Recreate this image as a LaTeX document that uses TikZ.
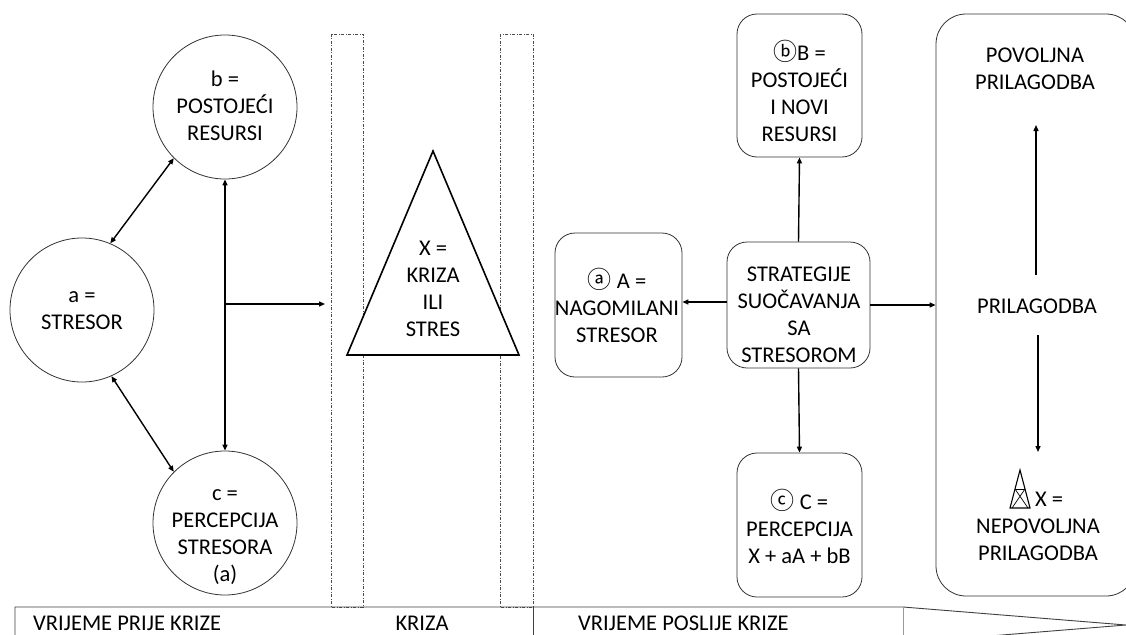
\documentclass[tikz,border=0pt]{standalone}
\usepackage{fontspec}
\setmainfont{Carlito}
\newfontfamily\circfont{Noto Sans CJK SC}
\usetikzlibrary{arrows.meta}
\begin{document}
\begin{tikzpicture}[x=1pt,y=-1pt,
  circ/.style={circle, draw=black!80, line width=0.8pt, minimum size=144pt, inner sep=0pt},
  rbox/.style={draw=black!80, line width=0.8pt, rounded corners=20pt, inner sep=0pt},
  txt/.style={align=center, font=\fontsize{22.5}{27}\selectfont, inner sep=0pt},
  cl/.style={},
  arr/.style={line width=1.4pt, -{Triangle[length=6pt,width=5pt]}},
  darr/.style={line width=1.4pt, {Triangle[length=6pt,width=5pt]}-{Triangle[length=6pt,width=5pt]}},
  dashbox/.style={draw=black!70, line width=0.6pt, dash pattern=on 3pt off 1.5pt on 1pt off 1.5pt},
  bar/.style={draw=black!75, line width=0.9pt}]
\newcommand{\circled}[1]{{\circfont\fontsize{24}{27}\selectfont #1}}
\useasboundingbox (0,0) rectangle (1126,634);
\fill[white] (0,0) rectangle (1126,634);

% dashed crisis columns
\draw[dashbox] (331,34) rectangle (363,607);
\draw[dashbox] (500,34) rectangle (533,607);

% left circles
\node[circ] (b) at (225,107) {};
\node[txt] (bt) at (225,106) {b =\\POSTOJEĆI\\RESURSI};
\node[circ] (a) at (82,310) {};
\node[txt] (at) at (82,311) {a =\\STRESOR};
\node[circ] (c) at (225,523) {};
\node[txt] (ct) at (225,537) {c =\\PERCEPCIJA\\STRESORA\\(a)};

\draw[darr] (a.67) -- (b.225);
\draw[darr] (a.-66) -- (c.135);
\draw[darr] (b.south) -- (c.north);
\coordinate (j) at (225,304);
\coordinate (k) at (325,304);
\draw[arr] (j) -- (k);

% crisis triangle
\draw[line width=1.6pt, fill=white] (433,151) -- (519,355) -- (347,355) -- cycle;
\node[txt] (x) at (433,289) {X =\\KRIZA\\ILI\\STRES};

% coping part
\node[rbox, minimum width=127pt, minimum height=144pt] (A) at (618.5,305) {};
\node[txt] (At) at (617,305) {\circled{ⓐ} A =\\NAGOMILANI\\STRESOR};
\node[rbox, minimum width=143pt, minimum height=126pt] (S) at (798.5,305) {};
\node[txt] (St) at (799,315) {STRATEGIJE\\SUOČAVANJA\\SA\\STRESOROM};
\node[rbox, minimum width=125pt, minimum height=143pt] (B) at (799.5,85.5) {};
\node[txt] (Bt) at (799.5,91) {\circled{ⓑ}B =\\POSTOJEĆI\\I NOVI\\RESURSI};
\node[rbox, minimum width=125pt, minimum height=144pt] (C) at (799.5,525) {};
\node[txt] (Ct) at (799.5,526) {\circled{ⓒ} C =\\PERCEPCIJA\\X + aA + bB};

\draw[arr] (S.north) -- (B.south);
\draw[arr] (S.south) -- (C.north);
\draw[arr] (S.west |- 0,302) -- (A.east |- 0,302);

% adaptation box
\node[rbox, rounded corners=30pt, minimum width=200pt, minimum height=582pt] (big) at (1036,305) {};
\draw[arr] (S.east) -- (big.west);
\node[txt] (pov) at (1035,69) {POVOLJNA\\PRILAGODBA};
\node[txt] (pri) at (1037,306) {PRILAGODBA};
\coordinate (u1) at (1036,275);
\coordinate (u2) at (1036,125);
\coordinate (d1) at (1038,335);
\coordinate (d2) at (1038,452);
\draw[arr] (u1) -- (u2);
\draw[arr] (d1) -- (d2);
% tower symbol
\draw[line width=1.1pt, line join=miter] (1020,470) -- (1030,508) -- (1010,508) -- cycle;
\draw[line width=0.7pt] (1015,489) -- (1025,489);
\draw[line width=0.7pt] (1015,489) -- (1028,508) (1025,489) -- (1012,508);
\node[txt] (xe) at (1049,499) {X =};
\node[txt] (nep) at (1038,540) {NEPOVOLJNA\\PRILAGODBA};

% time bar
\draw[bar] (15,640) -- (15,607) -- (903,607) -- (1126,625) -- (903,643);
\draw[bar] (533,607) -- (533,640);
\draw[bar, draw=black!40, line width=0.6pt] (903,607) -- (903,640);
\node[txt, anchor=west] (t1) at (33,623) {VRIJEME PRIJE KRIZE};
\node[txt] (t2) at (422,623) {KRIZA};
\node[txt, anchor=west] (t3) at (578,623) {VRIJEME POSLIJE KRIZE};
\end{tikzpicture}
\end{document}
